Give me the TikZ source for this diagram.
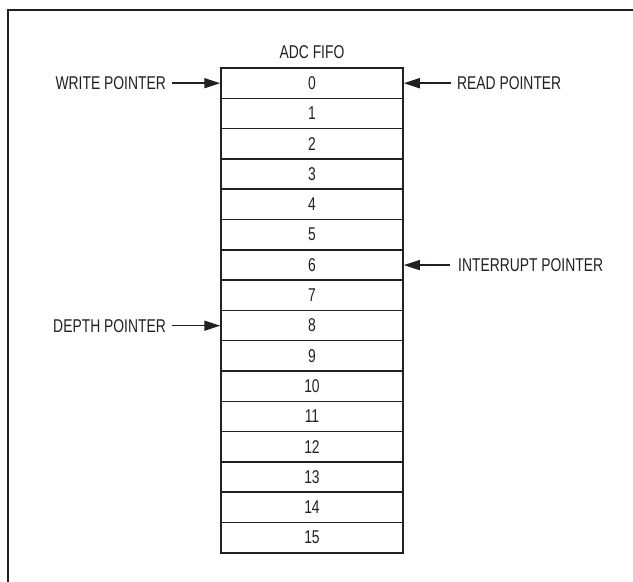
\documentclass[tikz,border=0pt]{standalone}
\usepackage{fontspec}
\setmainfont{Liberation Sans}[FakeStretch=0.75]
\usetikzlibrary{arrows.meta}
\definecolor{ink}{HTML}{231F20}
\begin{document}
\begin{tikzpicture}[x=1pt,y=-1pt,
  lbl/.style={inner sep=0pt, text=ink, font=\fontsize{18.5}{20}\selectfont},
  cell/.style={draw=ink, line width=1.5pt, minimum width=182pt, minimum height=30.3pt, inner sep=0pt, text=ink, font=\fontsize{18.5}{20}\selectfont},
  arr/.style={draw=ink, line width=1.5pt, -{Triangle[length=16pt,width=10pt]}}]
\useasboundingbox (0,0) rectangle (633,582);
\draw[ink, line width=2pt] (8,582) -- (8,10) -- (633,10);
\foreach \i in {0,...,15} {
  \node[cell] (c\i) at (312, {68+30.3*\i+15.15}) {\i};
}
\node[lbl, anchor=south] (title) at ([yshift=8.5pt]c0.north) {ADC FIFO};
\node[lbl, anchor=east] (wp) at (166,83.2) {WRITE POINTER};
\node[lbl, anchor=west] (rp) at (457,83.2) {READ POINTER};
\node[lbl, anchor=west] (ip) at (458,265.1) {INTERRUPT POINTER};
\node[lbl, anchor=east] (dp) at (166,325.7) {DEPTH POINTER};
\draw[arr, shorten <=6pt] (wp.east) -- (wp.east -| c0.west);
\draw[arr, shorten <=6pt] (rp.west) -- (rp.west -| c0.east);
\draw[arr, shorten <=8pt] (ip.west) -- (ip.west -| c6.east);
\draw[arr, shorten <=6pt] (dp.east) -- (dp.east -| c8.west);
\end{tikzpicture}
\end{document}
